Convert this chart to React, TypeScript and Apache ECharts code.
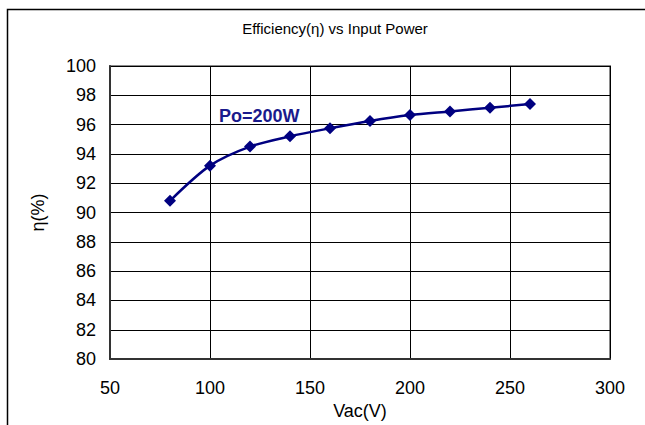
import React, { useEffect, useRef } from "react";
import * as echarts from "echarts";

const vac = [80, 100, 120, 140, 160, 180, 200, 220, 240, 260];
const efficiency = [90.8, 93.2, 94.5, 95.2, 95.75, 96.25, 96.65, 96.9, 97.15, 97.4];
const titleText = "Efficiency(η) vs Input Power";
const seriesLabel = "Po=200W";
const xName = "Vac(V)";
const yName = "η(%)";

export default function App() {
  const ref = useRef<HTMLDivElement>(null);
  useEffect(() => {
    const chart = echarts.init(ref.current!, null, { renderer: "svg" });
    const font = "Arial, 'Liberation Sans', sans-serif";
    chart.setOption({
      animation: false,
      backgroundColor: "#ffffff",
      title: {
        text: titleText,
        left: 330,
        top: 16,
        textAlign: "center",
        textStyle: { fontFamily: font, fontSize: 15, fontWeight: "normal", color: "#000" },
      },
      grid: {
        left: 110,
        right: 35,
        top: 66,
        bottom: 63,
        show: true,
        borderColor: "#8a8a8a",
        borderWidth: 2,
        backgroundColor: "transparent",
      },
      xAxis: {
        type: "value",
        min: 50,
        max: 300,
        interval: 50,
        name: xName,
        nameLocation: "middle",
        nameGap: 42,
        nameTextStyle: { fontFamily: font, fontSize: 18, color: "#000" },
        axisLine: { show: true, lineStyle: { color: "#333", width: 2 } },
        axisTick: { show: false },
        axisLabel: { margin: 20, fontFamily: font, fontSize: 18, color: "#000" },
        splitLine: { show: true, lineStyle: { color: "#000", width: 1 } },
      },
      yAxis: {
        type: "value",
        min: 80,
        max: 100,
        interval: 2,
        name: yName,
        nameLocation: "middle",
        nameGap: 63,
        nameRotate: 90,
        nameTextStyle: { fontFamily: font, fontSize: 18, color: "#000" },
        axisLine: { show: true, lineStyle: { color: "#333", width: 2 } },
        axisTick: { show: false },
        axisLabel: { margin: 14, fontFamily: font, fontSize: 18, color: "#000" },
        splitLine: { show: true, lineStyle: { color: "#000", width: 1 } },
      },
      series: [
        {
          type: "line",
          data: vac.map((v, i) => [v, efficiency[i]]),
          smooth: 0.3,
          symbol: "diamond",
          symbolSize: 12,
          itemStyle: { color: "#000080" },
          lineStyle: { color: "#000080", width: 2.5 },
        },
      ],
      graphic: [
        {
          type: "rect",
          shape: { x: 7.5, y: 9.5, width: 700, height: 500 },
          style: { fill: "none", stroke: "#000", lineWidth: 1.5 },
          silent: true,
        },
        {
          type: "text",
          x: 219,
          y: 116,
          style: {
            text: seriesLabel,
            fontFamily: font,
            fontSize: 18,
            fontWeight: "bold",
            fill: "#1a1a8c",
            verticalAlign: "middle",
          },
        },
      ],
    });
    return () => chart.dispose();
  }, []);
  return (
    <div
      ref={ref}
      style={{ position: "fixed", left: 0, top: 0, width: 645, height: 425 }}
    />
  );
}
